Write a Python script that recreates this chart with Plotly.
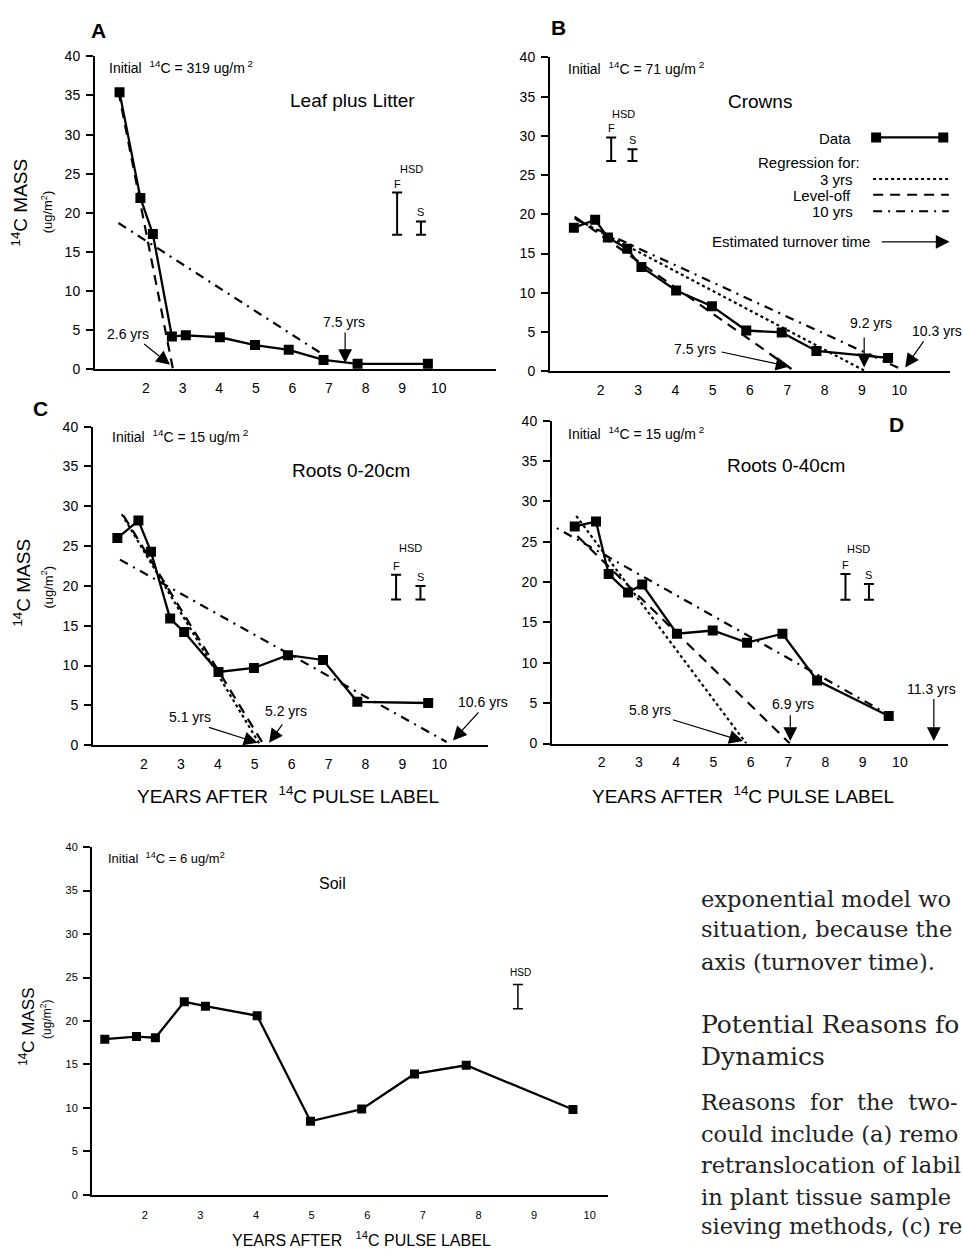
import plotly.graph_objects as go

# ---------------- data ----------------
years = [1.28, 1.85, 2.19, 2.71, 3.09, 4.02, 4.98, 5.90, 6.85, 7.78, 9.70]
leaf_litter = [35.4, 21.9, 17.3, 4.2, 4.35, 4.1, 3.1, 2.5, 1.2, 0.7, 0.7]
crowns = [18.3, 19.3, 17.05, 15.6, 13.3, 10.3, 8.3, 5.2, 4.95, 2.6, 1.7]
roots_20 = [26.0, 28.2, 24.3, 15.9, 14.2, 9.2, 9.7, 11.3, 10.7, 5.45, 5.3]
roots_40 = [26.9, 27.5, 21.0, 18.7, 19.7, 13.6, 14.0, 12.5, 13.6, 7.8, 3.4]
soil = [17.9, 18.2, 18.07, 22.2, 21.7, 20.6, 8.45, 9.85, 13.9, 14.9, 9.8]

x_ticks = [2, 3, 4, 5, 6, 7, 8, 9, 10]
y_ticks = [0, 5, 10, 15, 20, 25, 30, 35, 40]

# regression lines: (x_start, y_start, x_end, y_end)
reg_A = {"dash": (1.25, 35.5, 2.74, 0.0), "dashdot": (1.25, 18.7, 7.0, 1.4)}
reg_B = {"dot": (1.3, 19.5, 9.1, 0.0), "dash": (1.3, 19.7, 7.2, 0.0), "dashdot": (1.35, 19.3, 10.0, 0.4)}
reg_C = {"dot": (1.4, 29.0, 5.15, 0.0), "dash": (1.45, 28.8, 5.25, 0.0), "dashdot": (1.35, 23.3, 10.2, 0.4)}
reg_D = {"dot": (1.32, 28.2, 5.88, 0.0), "dash": (1.35, 25.7, 7.05, 0.0), "dashdot": (0.45, 27.6, 9.9, 3.05)}

# HSD bars: (x, low, high)
hsd_A = [(8.86, 17.2, 22.6), (9.51, 17.2, 18.9)]
hsd_B = [(2.28, 26.8, 29.8), (2.85, 26.8, 28.3)]
hsd_C = [(8.83, 18.3, 21.4), (9.49, 18.3, 20.0)]
hsd_D = [(8.54, 17.8, 21.0), (9.17, 17.8, 19.75)]
hsd_soil = [(8.71, 21.4, 24.2)]

W, H = 963, 1257
def px(x):
    return x / W
def py(y):
    return 1 - y / H

FONT = "Liberation Sans, Arial, sans-serif"
SERIF = "DejaVu Serif, serif"

# panel geometry in pixels: (left, right, top, bottom), x range
panels = {
    "A": dict(ax="", box=(95, 496, 49, 366), xr=[0.61, 11.56], tf=14, sd=5),
    "B": dict(ax="2", box=(550, 950, 50, 368), xr=[0.64, 11.36], tf=14, sd=5),
    "C": dict(ax="3", box=(93, 488, 424, 746.7), xr=[0.62, 11.32], tf=14, sd=5),
    "D": dict(ax="4", box=(552, 948, 418, 745), xr=[0.67, 11.29], tf=14, sd=5),
    "S": dict(ax="5", box=(92, 608, 850, 1202), xr=[1.05, 10.33], tf=11, sd=9),
}

fig = go.Figure()
layout = dict(width=W, height=H, autosize=False, margin=dict(l=0, r=0, t=0, b=0, pad=0),
              paper_bgcolor="white", plot_bgcolor="white", showlegend=False,
              font=dict(family=FONT, color="black"))
annotations = []

for key, p in panels.items():
    l, r, t, b = p["box"]
    ax = p["ax"]
    layout["xaxis" + ax] = dict(domain=[px(l), px(r)], range=p["xr"], anchor="y" + ax,
                                tickvals=x_ticks, ticks="", showline=True, linecolor="black",
                                linewidth=2, showgrid=False, zeroline=False,
                                tickfont=dict(size=p["tf"], family=FONT, color="black"),
                                ticklabelstandoff=p["sd"])
    layout["yaxis" + ax] = dict(domain=[py(b), py(t)], range=[0, 40], anchor="x" + ax,
                                tickvals=y_ticks, ticks="outside", ticklen=7, tickwidth=1.5,
                                tickcolor="black", showline=True, linecolor="black",
                                linewidth=2, showgrid=False, zeroline=False,
                                tickfont=dict(size=p["tf"], family=FONT, color="black"),
                                ticklabelstandoff=3)

def xy(ax):
    return ("x" + ax, "y" + ax)

def add_data(ax, vals, msize=10):
    xa, ya = xy(ax)
    fig.add_trace(go.Scatter(x=years, y=vals, mode="lines+markers", xaxis=xa, yaxis=ya,
                             line=dict(color="black", width=2.3),
                             marker=dict(symbol="square", size=msize, color="black"),
                             hoverinfo="skip"))

DASHES = {"dot": "dot", "dash": "10px,7px", "dashdot": "9px,6px,2px,6px"}

def add_reg(ax, regs):
    xa, ya = xy(ax)
    for k, (x0, y0, x1, y1) in regs.items():
        fig.add_trace(go.Scatter(x=[x0, x1], y=[y0, y1], mode="lines", xaxis=xa, yaxis=ya,
                                 line=dict(color="black", width=2.2, dash=DASHES[k]),
                                 hoverinfo="skip"))

def add_hsd(ax, bars, labels=("F", "S"), th=2):
    xa, ya = xy(ax)
    xs = [b[0] for b in bars]
    mid = [(b[1] + b[2]) / 2 for b in bars]
    half = [(b[2] - b[1]) / 2 for b in bars]
    fig.add_trace(go.Scatter(x=xs, y=mid, mode="markers", xaxis=xa, yaxis=ya,
                             marker=dict(size=1, opacity=0),
                             error_y=dict(type="data", array=half, visible=True,
                                          color="black", thickness=th, width=5),
                             hoverinfo="skip"))
    if labels:
        for (x, lo, hi), lab in zip(bars, labels):
            annotations.append(dict(x=x, y=hi, xref=xa, yref=ya, text=lab, showarrow=False,
                                    xanchor="center", yanchor="bottom", yshift=1,
                                    font=dict(size=11, family=FONT)))

def text(ax, x, y, s, size=14, xanchor="center", yanchor="middle"):
    xa, ya = xy(ax)
    annotations.append(dict(x=x, y=y, xref=xa, yref=ya, text=s, showarrow=False,
                            xanchor=xanchor, yanchor=yanchor, font=dict(size=size, family=FONT)))

def arrow(ax, tail, head, size=2.3):
    xa, ya = xy(ax)
    annotations.append(dict(x=head[0], y=head[1], ax=tail[0], ay=tail[1], xref=xa, yref=ya,
                            axref=xa, ayref=ya, text="", showarrow=True, arrowhead=2,
                            arrowsize=size, arrowwidth=1.2, arrowcolor="black", standoff=0))

# ---- Panel A ----
add_reg("", reg_A)
add_data("", leaf_litter)
add_hsd("", hsd_A)
text("", 9.24, 25.6, "HSD", size=11)
text("", 0.95, 38.7, "Initial  <sup>14</sup>C = 319 ug/m<sup> 2</sup>", xanchor="left")
text("", 7.63, 34.4, "Leaf plus Litter", size=19)
text("", 1.5, 4.5, "2.6 yrs")
arrow("", (1.91, 3.4), (2.66, 0.6))
text("", 7.4, 6.1, "7.5 yrs")
arrow("", (7.44, 4.9), (7.44, 0.8))

# ---- Panel B ----
add_reg("2", reg_B)
add_data("2", crowns)
add_hsd("2", hsd_B)
text("2", 2.6, 32.8, "HSD", size=11)
text("2", 1.07, 38.7, "Initial  <sup>14</sup>C = 71 ug/m<sup> 2</sup>", xanchor="left")
text("2", 6.28, 34.4, "Crowns", size=19)
text("2", 4.52, 2.9, "7.5 yrs")
arrow("2", (5.2, 2.5), (7.06, 0.6))
text("2", 9.25, 6.1, "9.2 yrs")
arrow("2", (9.06, 4.5), (9.06, 0.5))
text("2", 11.0, 5.2, "10.3 yrs")
arrow("2", (10.68, 4.0), (10.16, 0.5))

# legend of panel B (layout key)
LEG_TEXT_X = 8.82
LEG_KEY = [9.38, 11.18]
text("2", 8.75, 29.6, "Data", size=15, xanchor="right")
fig.add_trace(go.Scatter(x=LEG_KEY, y=[29.8, 29.8], mode="lines+markers", xaxis="x2", yaxis="y2",
                         line=dict(color="black", width=2.3),
                         marker=dict(symbol="square", size=10, color="black"), hoverinfo="skip"))
text("2", 9.0, 26.55, "Regression for:", size=15, xanchor="right")
text("2", LEG_TEXT_X, 24.45, "3 yrs", size=15, xanchor="right")
text("2", LEG_TEXT_X - 0.05, 22.4, "Level-off", size=15, xanchor="right")
text("2", LEG_TEXT_X, 20.3, "10 yrs", size=15, xanchor="right")
for yk, k in [(24.5, "dot"), (22.5, "dash"), (20.4, "dashdot")]:
    fig.add_trace(go.Scatter(x=[9.3, 11.33], y=[yk, yk], mode="lines", xaxis="x2", yaxis="y2",
                             line=dict(color="black", width=2, dash=DASHES[k]), hoverinfo="skip"))
text("2", 9.26, 16.5, "Estimated turnover time", size=15, xanchor="right")
arrow("2", (9.49, 16.5), (11.35, 16.5))

# ---- Panel C ----
add_reg("3", reg_C)
add_data("3", roots_20)
add_hsd("3", hsd_C)
text("3", 9.23, 24.7, "HSD", size=11)
text("3", 1.07, 38.8, "Initial  <sup>14</sup>C = 15 ug/m<sup> 2</sup>", xanchor="left")
text("3", 7.6, 34.5, "Roots 0-20cm", size=19)
text("3", 3.26, 3.5, "5.1 yrs")
arrow("3", (3.72, 2.3), (5.08, 0.3))
text("3", 5.84, 4.3, "5.2 yrs")
arrow("3", (5.78, 2.8), (5.39, 0.3))
text("3", 11.19, 5.45, "10.6 yrs")
arrow("3", (11.1, 4.3), (10.37, 0.6))

# ---- Panel D ----
add_reg("4", reg_D)
add_data("4", roots_40)
add_hsd("4", hsd_D)
text("4", 8.9, 24.15, "HSD", size=11)
text("4", 1.04, 38.5, "Initial  <sup>14</sup>C = 15 ug/m<sup> 2</sup>", xanchor="left")
text("4", 6.94, 34.4, "Roots 0-40cm", size=19)
text("4", 3.29, 4.1, "5.8 yrs")
arrow("4", (3.87, 3.0), (5.79, 0.3))
text("4", 7.13, 4.9, "6.9 yrs")
arrow("4", (7.06, 3.7), (7.06, 0.3))
text("4", 10.84, 6.7, "11.3 yrs")
arrow("4", (10.91, 5.7), (10.91, 0.3))

# ---- Soil panel ----
add_data("5", soil, msize=9)
add_hsd("5", hsd_soil, labels=None, th=1.5)
text("5", 8.76, 25.6, "HSD", size=10)
text("5", 1.31, 38.7, "Initial  <sup>14</sup>C = 6 ug/m<sup>2</sup>", size=13, xanchor="left")
text("5", 5.37, 35.8, "Soil", size=16)

# ---- panel letters, axis titles ----
def ptext(xx, yy, s, size, angle=0, family=FONT, xanchor="center", color="black"):
    annotations.append(dict(x=px(xx), y=py(yy), xref="paper", yref="paper", text=s,
                            showarrow=False, textangle=angle, xanchor=xanchor, yanchor="middle",
                            font=dict(size=size, family=family, color=color)))

for lab, (xx, yy) in {"A": (98, 23), "B": (558, 20), "C": (40, 406), "D": (896, 422)}.items():
    ptext(xx, yy, "<b>%s</b>" % lab, 21)

for (x1, y1, x2, y2, s1, s2) in [(20, 197, 47, 207, 19, 13), (22, 582, 47, 587, 19, 13),
                                 (27, 1032, 46, 1025, 17, 12)]:
    ptext(x1, y1, "<sup>14</sup>C MASS", s1, -90)
    ptext(x2, y2, "(ug/m<sup>2</sup>)", s2, -90)

ptext(288, 797, "YEARS AFTER  <sup>14</sup>C PULSE LABEL", 19)
ptext(743, 797, "YEARS AFTER  <sup>14</sup>C PULSE LABEL", 19)
ptext(361, 1247, "YEARS AFTER   <sup>14</sup>C PULSE LABEL", 16)

# ---- body text (page fragment) ----
body = [(902, "exponential model wo", 22.5), (933, "situation, because the", 22.5),
        (966, "axis (turnover time).", 22.5), (1030, "Potential Reasons fo", 25),
        (1062, "Dynamics", 25), (1108, "Reasons  for  the  two-", 22.5),
        (1141, "could include (a) remo", 22.5), (1172, "retranslocation of labil", 22.5),
        (1204, "in plant tissue sample", 22.5), (1234, "sieving methods, (c) re", 22.5)]
for yy, s, fs in body:
    ptext(699, yy, s, fs, family=SERIF, xanchor="left", color="#222")

layout["annotations"] = annotations
fig.update_layout(**layout)
fig.write_html("out.html", post_script="document.body.style.margin='0px';")
